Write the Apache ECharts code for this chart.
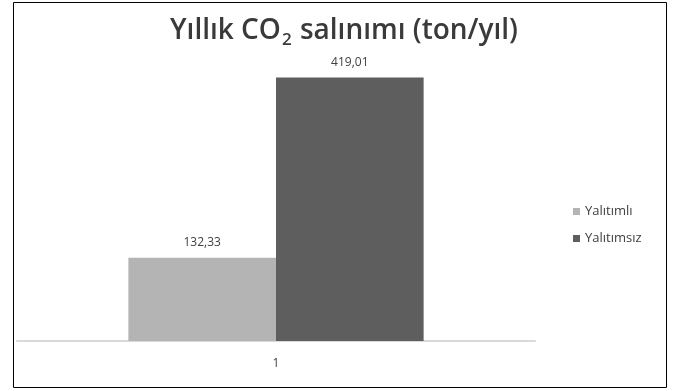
<!DOCTYPE html>
<html>
<head>
<meta charset="utf-8">
<script src="https://cdn.jsdelivr.net/npm/echarts@6/dist/echarts.min.js"></script>
<style>
  html, body { margin: 0; padding: 0; background: #fff; }
  #chart { width: 680px; height: 391px; }
</style>
</head>
<body>
<div id="chart"></div>
<script>
// Yearly CO2 emissions, insulated vs. uninsulated
const categories = ['1'];
const seriesNames = ['Yalıtımlı', 'Yalıtımsız'];
const insulated = [132.33];
const uninsulated = [419.01];
const seriesColors = ['#b4b4b4', '#5e5e5e'];

const fmt = v => v.toFixed(2).replace('.', ',');

const chart = echarts.init(document.getElementById('chart'), null, { renderer: 'canvas' });

const labelStyle = {
  show: true,
  position: 'top',
  distance: 9,
  color: '#404040',
  fontFamily: 'Open Sans',
  fontSize: 12,
  formatter: p => fmt(p.value)
};

chart.setOption({
  animation: false,
  backgroundColor: '#ffffff',
  title: {
    text: '{t|Yıllık CO}{sub|2}{t| salınımı (ton/yıl)}',
    left: 339,
    textAlign: 'center',
    top: 4,
    textStyle: {
      rich: {
        t: {
          fontSize: 28,
          fontFamily: 'Open Sans',
          fontWeight: 600,
          color: '#3a3a3a',
          lineHeight: 36,
          verticalAlign: 'bottom'
        },
        sub: {
          fontSize: 17,
          fontFamily: 'Open Sans',
          fontWeight: 600,
          color: '#3a3a3a',
          lineHeight: 36,
          verticalAlign: 'bottom',
          padding: [0, 1, -4, 1]
        }
      }
    }
  },
  legend: {
    orient: 'vertical',
    left: 568,
    top: 200,
    itemWidth: 7,
    itemHeight: 7,
    itemGap: 14,
    icon: 'rect',
    textStyle: { color: '#404040', fontFamily: 'Open Sans', fontSize: 13 },
    data: seriesNames
  },
  grid: { left: 17, right: 145, top: 58, bottom: 50, containLabel: false },
  xAxis: {
    type: 'category',
    data: categories,
    axisLine: { lineStyle: { color: '#d9d9d9', width: 2 } },
    axisTick: { show: false },
    axisLabel: { color: '#404040', fontFamily: 'Open Sans', fontSize: 12, margin: 17 }
  },
  yAxis: {
    type: 'value',
    min: 0,
    max: 450,
    show: false,
    splitLine: { show: false }
  },
  series: [
    {
      name: seriesNames[0],
      type: 'bar',
      data: insulated,
      barGap: '0%',
      barCategoryGap: '43%',
      itemStyle: { color: seriesColors[0] },
      label: labelStyle
    },
    {
      name: seriesNames[1],
      type: 'bar',
      data: uninsulated,
      barGap: '0%',
      barCategoryGap: '43%',
      itemStyle: { color: seriesColors[1] },
      label: labelStyle
    }
  ],
  graphic: [
    {
      type: 'rect',
      shape: { x: 13.5, y: 2.5, width: 653, height: 385 },
      style: { fill: 'none', stroke: '#000000', lineWidth: 1 },
      silent: true
    }
  ]
});
</script>
</body>
</html>
